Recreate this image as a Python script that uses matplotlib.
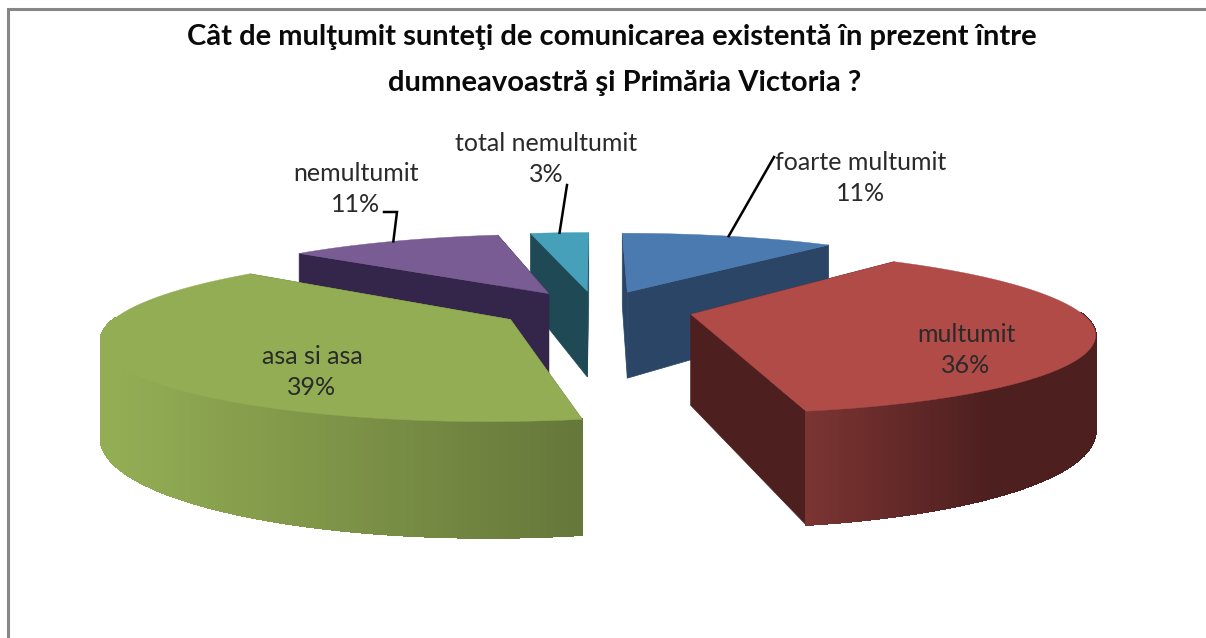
import numpy as np
import matplotlib
matplotlib.use("Agg")
import matplotlib.pyplot as plt
from matplotlib.patches import Polygon

categories = ["foarte multumit", "multumit", "asa si asa", "nemultumit", "total nemultumit"]
values = [11, 36, 39, 11, 3]
title_lines = ["Cât de mulţumit sunteţi de comunicarea existentă în prezent între",
               "dumneavoastră şi Primăria Victoria ?"]

# culori
top_col = ["#4a7ab0", "#b04b48", "#93ad54", "#785c93", "#46a0ba"]
side_col = ["#2b4566", "#4e1f1f", "#66783a", "#33264a", "#1f4a55"]
rim_light = ["#3a5c88", "#7c3533", "#93ad54", "#4a3a66", "#2f6c7c"]
rim_range = [(630, 830), (800, 985), (115, 575), (310, 550), (540, 590)]

# proiectie
cx, cy = 596, 309.5
A, B = 387, 77
k = 0.2
e = 0.25
depth = 90


def project(t, m, r=1.0):
    # t = unghi pe cerc, m = unghi mijloc felie
    X = e*np.sin(m)+r*np.sin(t)
    Y = e*np.cos(m)+r*np.cos(t)
    s = 1/(1+k*Y)
    return cx+A*X*s, cy-B*Y*s, depth*s


def mix(c1, c2, f):
    a = np.array(matplotlib.colors.to_rgb(c1))
    b = np.array(matplotlib.colors.to_rgb(c2))
    return tuple(a+(b-a)*min(max(f, 0), 1))


fig = plt.figure(figsize=(12.06, 6.38), dpi=100)
ax = fig.add_axes([0, 0, 1, 1])
ax.set_xlim(0, 1206)
ax.set_ylim(638, 0)
ax.axis("off")

plt.rcParams["font.family"] = ["Lato", "DejaVu Sans"]

# rama
ax.plot([8, 8, 1206], [638, 9, 9], color="#868686", lw=2.2, solid_joinstyle="miter")

total = sum(values)
edges = np.cumsum([0]+values)/total*2*np.pi
order = [4, 0, 3, 1, 2]
mids = {}

for i in order:
    t0, t1 = edges[i], edges[i+1]
    m = (t0+t1)/2
    mids[i] = m
    ax_, ay, ad = project(0, m, 0)
    # pereti taiati
    for t in (t0, t1):
        x, y, d = project(t, m)
        ax.add_patch(Polygon([(ax_, ay), (x, y), (x, y+d), (ax_, ay+ad)],
                             fc=side_col[i], ec=side_col[i], lw=0.5, zorder=2))
    # perete exterior
    ts = np.linspace(t0, t1, int((t1-t0)*120)+2)
    for a, b in zip(ts[:-1], ts[1:]):
        if np.cos((a+b)/2) > 0.02:
            continue
        xa, ya, da = project(a, m)
        xb, yb, db = project(b, m)
        f = ((xa+xb)/2-rim_range[i][0])/(rim_range[i][1]-rim_range[i][0])
        c = mix(rim_light[i], side_col[i], f)
        ax.add_patch(Polygon([(xa, ya), (xb, yb), (xb, yb+db), (xa, ya+da)],
                             fc=c, ec=c, lw=0.8, antialiased=False, zorder=2))
    # fata de sus
    xs, ys, _ = project(ts, m)
    ax.add_patch(Polygon([(ax_, ay)]+list(zip(xs, ys)), fc=top_col[i], ec=top_col[i],
                         lw=0.3, zorder=2))

ax.text(612, 37, title_lines[0], ha="center", va="center", fontsize=21, fontweight="bold",
        color="#0a0a0a")
ax.text(625, 83, title_lines[1], ha="center", va="center", fontsize=21, fontweight="bold",
        color="#0a0a0a")

label_pos = [(861, 178), (966, 350), (312, 372), (356, 189), (546, 159)]
for i, (lx, ly) in enumerate(label_pos):
    ax.text(lx, ly, "%s\n%d%%" % (categories[i], values[i]), ha="center", va="center",
            fontsize=18, color="#2a2a2a", linespacing=1.4, zorder=4)

# linii de legatura
leaders = {0: [(774, 157)], 3: [(384, 212), (397, 212)], 4: [(567, 185)]}
for i, pts in leaders.items():
    x, y, _ = project(mids[i], mids[i])
    xs = [p[0] for p in pts]+[x]
    ys = [p[1] for p in pts]+[y]
    ax.plot(xs, ys, color="black", lw=1.8, zorder=3, solid_joinstyle="miter")

fig.savefig("out.png", dpi=100)
